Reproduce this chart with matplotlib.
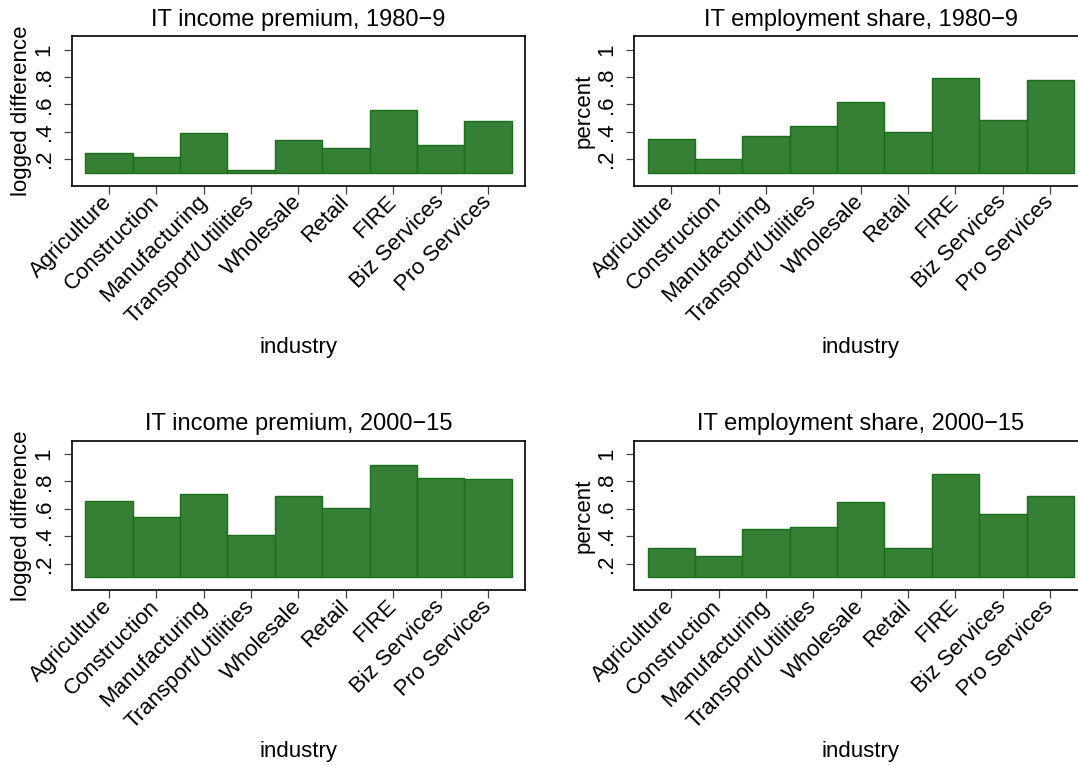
import matplotlib
matplotlib.use('Agg')
import matplotlib.pyplot as plt

# Datos
industries = ['Agriculture', 'Construction', 'Manufacturing', 'Transport/Utilities',
              'Wholesale', 'Retail', 'FIRE', 'Biz Services', 'Pro Services']
income_1980 = [0.244, 0.215, 0.390, 0.116, 0.338, 0.279, 0.558, 0.301, 0.481]
employ_1980 = [0.348, 0.200, 0.370, 0.440, 0.617, 0.400, 0.795, 0.486, 0.775]
income_2000 = [0.656, 0.537, 0.708, 0.406, 0.693, 0.609, 0.918, 0.827, 0.814]
employ_2000 = [0.311, 0.254, 0.450, 0.467, 0.648, 0.316, 0.856, 0.562, 0.690]
y_ticks = [0.2, 0.4, 0.6, 0.8, 1.0]
y_ticklabels = ['.2', '.4', '.6', '.8', '1']
base = 0.1

plt.rcParams['font.family'] = ['Liberation Sans', 'DejaVu Sans']

fig = plt.figure(figsize=(10.78, 7.65), dpi=100)

panels = [
    (income_1980, 'IT income premium, 1980\u22129', 'logged difference', [0.0665, 0.7573, 0.4208, 0.1953]),
    (employ_1980, 'IT employment share, 1980\u22129', 'percent', [0.5881, 0.7573, 0.4208, 0.1953]),
    (income_2000, 'IT income premium, 2000\u221215', 'logged difference', [0.0665, 0.2284, 0.4208, 0.1956]),
    (employ_2000, 'IT employment share, 2000\u221215', 'percent', [0.5881, 0.2284, 0.4208, 0.1956]),
]

for values, title, ylabel, pos in panels:
    ax = fig.add_axes(pos)
    x = list(range(len(industries)))
    heights = [v - base for v in values]
    ax.bar(x, heights, bottom=base, width=1.0, align='edge',
           color='#358035', edgecolor='#1b6e1b', linewidth=1.0)
    ax.set_xlim(-0.29, 9.29)
    ax.set_ylim(0.005, 1.097)

    ax.set_xticks([i + 0.5 for i in x])
    ax.set_xticklabels(industries, rotation=45, ha='right', va='center',
                       rotation_mode='anchor', fontsize=16)
    ax.set_yticks(y_ticks)
    ax.set_yticklabels(y_ticklabels, rotation=90, va='center', fontsize=16)
    ax.tick_params(axis='x', length=5.5, width=0.9, color='#444444', pad=4)
    ax.tick_params(axis='y', length=5.8, width=0.9, color='#444444', pad=6.5)
    for s in ax.spines.values():
        s.set_linewidth(1.2)

    ax.text(0.5, 1.072, title, transform=ax.transAxes, ha='center', va='baseline', fontsize=17)
    ax.text(0.5, -1.08, 'industry', transform=ax.transAxes, ha='center', va='center', fontsize=16)
    ax.text(-0.11, 0.5, ylabel, transform=ax.transAxes, ha='center', va='center',
            rotation=90, fontsize=16)

fig.savefig('out.png', dpi=100)
